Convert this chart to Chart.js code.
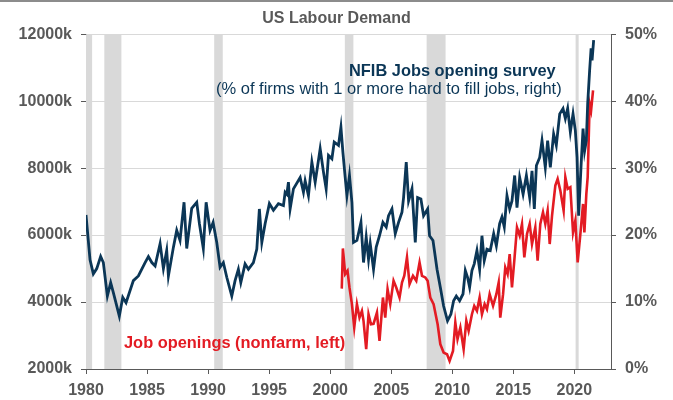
<!DOCTYPE html>
<html>
<head>
<meta charset="utf-8">
<script src="https://cdn.jsdelivr.net/npm/chart.js@4/dist/chart.umd.min.js"></script>
<style>
  body { margin: 0; background: #fff; }
  #wrap { width: 673px; height: 400px; }
</style>
</head>
<body>
<div id="wrap"><canvas id="chart" width="673" height="400"></canvas></div>
<script>
// NFIB: % of firms with 1 or more hard to fill jobs (right axis)
const nfibYears = [1980.0, 1980.33, 1980.6, 1980.88, 1981.2, 1981.42, 1981.75, 1982.02, 1982.24, 1982.73,
  1983.01, 1983.28, 1983.88, 1984.29, 1984.84, 1985.11, 1985.39, 1985.66, 1986.07, 1986.34,
  1986.61, 1986.75, 1987.16, 1987.43, 1987.7, 1988.03, 1988.25, 1988.66, 1989.07, 1989.29,
  1989.61, 1989.84, 1990.16, 1990.41, 1990.71, 1990.98, 1991.25, 1991.53, 1991.94, 1992.21,
  1992.48, 1992.68, 1993.03, 1993.3, 1993.71, 1993.99, 1994.2, 1994.4, 1994.67, 1995.02,
  1995.35, 1995.76, 1996.17, 1996.31, 1996.45, 1996.58, 1996.72, 1996.99, 1997.54, 1997.81,
  1997.95, 1998.22, 1998.5, 1998.77, 1999.18, 1999.45, 1999.67, 1999.86, 2000.14, 2000.33,
  2000.68, 2000.88, 2001.04, 2001.23, 2001.37, 2001.58, 2001.78, 2001.91, 2002.19, 2002.52,
  2002.73, 2002.95, 2003.14, 2003.28, 2003.55, 2003.77, 2004.04, 2004.32, 2004.59, 2004.78,
  2005.06, 2005.33, 2005.6, 2005.88, 2006.01, 2006.23, 2006.42, 2006.7, 2006.97, 2007.16,
  2007.43, 2007.65, 2007.98, 2008.14, 2008.42, 2008.75, 2009.02, 2009.29, 2009.61, 2009.89,
  2010.11, 2010.33, 2010.6, 2010.88, 2011.07, 2011.25, 2011.42, 2011.61, 2011.8, 2012.02,
  2012.24, 2012.43, 2012.62, 2012.84, 2013.11, 2013.39, 2013.61, 2013.88, 2014.07, 2014.26,
  2014.48, 2014.7, 2014.89, 2015.11, 2015.3, 2015.52, 2015.8, 2016.07, 2016.34, 2016.53,
  2016.72, 2016.89, 2017.16, 2017.35, 2017.62, 2017.81, 2018.03, 2018.3, 2018.52, 2018.8,
  2019.07, 2019.26, 2019.45, 2019.67, 2019.89, 2020.08, 2020.22, 2020.35, 2020.55, 2020.71,
  2020.84, 2020.98, 2021.09, 2021.25, 2021.37, 2021.45, 2021.58];
const nfibValues = [23.0, 16.3, 14.2, 15.0, 16.8, 15.9, 10.9, 12.9, 11.4, 7.9,
  10.7, 9.9, 13.2, 13.9, 15.9, 16.8, 15.9, 15.4, 18.7, 15.0,
  17.7, 13.9, 18.2, 20.7, 19.2, 24.9, 18.0, 24.0, 24.9, 21.7,
  18.0, 24.9, 20.7, 21.9, 18.9, 15.2, 15.9, 13.7, 10.9, 13.2,
  14.9, 12.9, 15.7, 14.9, 15.9, 17.9, 23.9, 18.9, 21.7, 24.7,
  23.7, 24.7, 24.4, 26.4, 26.1, 27.9, 23.9, 26.9, 28.6, 26.4,
  28.1, 25.9, 30.9, 27.9, 32.9, 29.4, 26.9, 31.9, 31.4, 33.9,
  33.4, 36.1, 32.4, 28.6, 25.9, 28.9, 24.9, 18.9, 19.2, 21.9,
  15.9, 19.7, 16.4, 18.7, 14.9, 18.2, 19.9, 21.9, 21.2, 22.9,
  23.9, 20.2, 21.9, 23.4, 25.6, 30.9, 25.1, 26.9, 18.9, 25.6,
  25.4, 22.9, 23.9, 19.9, 19.2, 14.9, 12.2, 9.4, 7.2, 8.2,
  10.2, 10.9, 10.2, 11.2, 14.7, 13.7, 12.2, 14.7, 15.7, 17.7,
  14.9, 19.9, 16.2, 17.9, 17.7, 20.2, 18.4, 21.7, 22.7, 21.2,
  25.9, 23.9, 25.1, 28.9, 24.1, 28.6, 26.1, 28.9, 25.6, 29.6,
  23.9, 30.4, 31.6, 34.1, 30.1, 34.1, 30.1, 35.1, 33.4, 38.1,
  38.9, 37.4, 38.9, 35.4, 38.1, 35.6, 31.6, 22.9, 30.4, 35.9,
  32.6, 34.1, 39.6, 44.6, 47.9, 46.1, 49.1];

// Job openings, nonfarm, thousands (left axis)
const joltsYears = [2000.95, 2001.04, 2001.23, 2001.42, 2001.58, 2001.78, 2001.97, 2002.19, 2002.4, 2002.6,
  2002.73, 2002.95, 2003.14, 2003.34, 2003.55, 2003.83, 2004.04, 2004.32, 2004.51, 2004.7,
  2004.92, 2005.19, 2005.41, 2005.68, 2005.88, 2006.07, 2006.29, 2006.5, 2006.78, 2007.05,
  2007.32, 2007.52, 2007.79, 2007.98, 2008.2, 2008.47, 2008.8, 2009.02, 2009.29, 2009.57,
  2009.78, 2010.06, 2010.25, 2010.43, 2010.66, 2010.93, 2011.15, 2011.34, 2011.61, 2011.8,
  2012.02, 2012.24, 2012.43, 2012.65, 2012.84, 2013.06, 2013.34, 2013.61, 2013.8, 2013.93,
  2014.16, 2014.34, 2014.53, 2014.7, 2014.89, 2015.08, 2015.3, 2015.52, 2015.71, 2015.9,
  2016.12, 2016.34, 2016.53, 2016.8, 2016.99, 2017.21, 2017.43, 2017.62, 2017.81, 2017.98,
  2018.17, 2018.44, 2018.63, 2018.85, 2019.12, 2019.26, 2019.45, 2019.67, 2019.89, 2020.08,
  2020.27, 2020.49, 2020.71, 2020.82, 2020.98, 2021.09, 2021.25, 2021.37, 2021.53];
const joltsValues = [4400, 5600, 4835, 4934, 4434, 3937, 3237, 3937, 3536, 3737,
  3437, 2590, 3637, 3338, 3350, 3686, 2838, 4135, 3536, 4385,
  3937, 4634, 4434, 4135, 4585, 4784, 5333, 4535, 4784, 4634,
  5183, 4784, 4734, 4634, 4135, 3937, 3338, 2740, 2490, 2440,
  2240, 2540, 3388, 2889, 3238, 2590, 3437, 3138, 3637, 3886,
  3737, 4135, 3637, 3937, 3787, 4235, 3886, 4235, 4584, 3536,
  4235, 5034, 4835, 5433, 4434, 5234, 6231, 5982, 6332, 5333,
  6032, 6332, 5733, 6231, 5234, 6332, 6680, 6332, 6731, 5733,
  6581, 7479, 7679, 7329, 6731, 7728, 7380, 7430, 6081, 6431,
  5183, 6032, 6930, 6081, 7230, 7728, 9925, 9725, 10323];

// US recessions, start and end as decimal years
const recessions = [[1980.0, 1980.5], [1981.5, 1982.9], [1990.5, 1991.2],
  [2001.2, 2001.9], [2007.9, 2009.45], [2020.1, 2020.35]];

const xTicks = ["1980", "1985", "1990", "1995", "2000", "2005", "2010", "2015", "2020"];

const navy = "#0B3656";
const red = "#E31B23";
const grey = "#595959";
const font = "'Liberation Sans', Arial, sans-serif";

const toPoints = (xs, ys) => xs.map((x, i) => ({ x: x, y: ys[i] }));

// grey bands for recessions, behind the lines
const recessionBands = {
  id: "recessionBands",
  beforeDatasetsDraw(chart) {
    const { ctx, chartArea, scales } = chart;
    ctx.save();
    ctx.fillStyle = "#D9D9D9";
    recessions.forEach(r => {
      const x1 = scales.x.getPixelForValue(r[0]);
      const x2 = scales.x.getPixelForValue(r[1]);
      ctx.fillRect(x1, chartArea.top, x2 - x1, chartArea.bottom - chartArea.top);
    });
    ctx.restore();
  }
};

// series labels written on the chart
const seriesLabels = {
  id: "seriesLabels",
  afterDatasetsDraw(chart) {
    const ctx = chart.ctx;
    ctx.save();
    ctx.textBaseline = "middle";
    ctx.textAlign = "left";
    ctx.fillStyle = navy;
    ctx.font = "bold 16.4px " + font;
    ctx.fillText("NFIB Jobs opening survey", 349, 71);
    ctx.font = "16.5px " + font;
    ctx.fillText("(% of firms with 1 or more hard to fill jobs, right)", 216, 89);
    ctx.fillStyle = red;
    ctx.font = "bold 16.4px " + font;
    ctx.fillText("Job openings (nonfarm, left)", 124, 343);
    // thin frame line at the top edge
    ctx.fillStyle = "#8C8C8C";
    ctx.fillRect(0, 0, chart.width, 2);
    ctx.restore();
  }
};

const tickFont = { family: font, size: 16, weight: "bold" };

new Chart(document.getElementById("chart"), {
  type: "line",
  data: {
    datasets: [
      {
        label: "NFIB Jobs opening survey",
        data: toPoints(nfibYears, nfibValues),
        yAxisID: "y1",
        borderColor: navy,
        borderWidth: 2.8,
        pointRadius: 0,
        tension: 0
      },
      {
        label: "Job openings (nonfarm, left)",
        data: toPoints(joltsYears, joltsValues),
        yAxisID: "y",
        borderColor: red,
        borderWidth: 2.6,
        pointRadius: 0,
        tension: 0
      }
    ]
  },
  options: {
    responsive: false,
    animation: false,
    devicePixelRatio: 1,
    layout: { padding: 0 },
    plugins: {
      legend: { display: false },
      tooltip: { enabled: false },
      title: {
        display: true,
        text: "US Labour Demand",
        color: grey,
        font: { family: font, size: 16, weight: "bold" },
        padding: { top: 9, bottom: 6 }
      }
    },
    scales: {
      x: {
        type: "linear",
        min: 1980,
        max: 2023,
        afterFit: s => { s.height = 31; },
        afterBuildTicks: s => { s.ticks = xTicks.map(t => ({ value: Number(t) })); },
        border: { color: grey, width: 1 },
        grid: { drawOnChartArea: false, color: grey, tickLength: 5 },
        ticks: { color: grey, font: tickFont, padding: 7, maxRotation: 0, callback: v => String(v) }
      },
      y: {
        position: "left",
        min: 2000,
        max: 12000,
        afterFit: s => { s.width = 86; },
        border: { color: grey, width: 1 },
        grid: { color: "#D9D9D9", tickColor: grey, tickLength: 5 },
        ticks: { stepSize: 2000, color: grey, font: tickFont, padding: 9, callback: v => v + "k" }
      },
      y1: {
        position: "right",
        min: 0,
        max: 50,
        afterFit: s => { s.width = 62; },
        border: { color: grey, width: 1 },
        grid: { drawOnChartArea: false, tickColor: grey, tickLength: 5 },
        ticks: { stepSize: 10, color: grey, font: tickFont, padding: 9, callback: v => v + "%" }
      }
    }
  },
  plugins: [recessionBands, seriesLabels]
});
</script>
</body>
</html>
